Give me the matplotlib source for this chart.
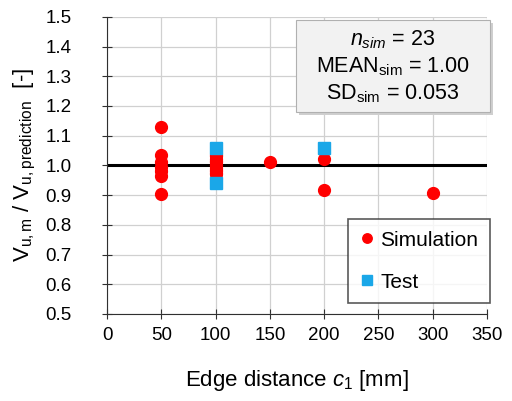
import matplotlib.pyplot as plt
from matplotlib.patches import FancyBboxPatch

plt.rcParams['font.family'] = ['Liberation Sans', 'DejaVu Sans']
plt.rcParams['mathtext.fontset'] = 'custom'
plt.rcParams['mathtext.rm'] = 'Liberation Sans'
plt.rcParams['mathtext.it'] = 'Liberation Sans:italic'

# simulation results
sim_c1 = [50, 50, 50, 50, 50, 50, 50,
          100, 100, 100, 100, 100, 100, 100, 100, 100, 100, 100, 100,
          150, 200, 200, 300]
sim_ratio = [1.13, 1.035, 1.01, 0.995, 0.98, 0.965, 0.905,
             1.035, 1.03, 1.02, 1.015, 1.01, 1.0, 1.0, 0.99, 0.985, 0.98, 0.975, 0.97,
             1.013, 1.023, 0.918, 0.908]

# test results
test_c1 = [100, 100, 200]
test_ratio = [1.06, 0.942, 1.06]

fig = plt.figure(figsize=(5.12, 4.01), dpi=100)
ax = fig.add_axes([0.209, 0.217, 0.742, 0.741])

ax.axhline(1.0, color='black', lw=2.2, zorder=2)
ax.plot(sim_c1, sim_ratio, 'o', color='#ff0000', ms=8.5, label='Simulation', zorder=3)
ax.plot(test_c1, test_ratio, 's', color='#1aa7e8', ms=8.5, label='Test', zorder=4)

ax.set_xlim(0, 350)
ax.set_ylim(0.5, 1.5)
ax.set_xticks(range(0, 351, 50))
ax.set_yticks([0.5 + 0.1 * i for i in range(11)])
ax.set_yticklabels([f'{0.5 + 0.1 * i:.1f}' for i in range(11)])
ax.grid(color='#d0d0d0', lw=0.9)
ax.set_axisbelow(True)
for s in ['top', 'right']:
    ax.spines[s].set_visible(False)
for s in ['left', 'bottom']:
    ax.spines[s].set_color('#303030')
ax.tick_params(labelsize=13.5, length=7, direction='inout', color='#303030')
ax.tick_params(axis='y', pad=22)
ax.tick_params(axis='x', pad=6)

ax.set_xlabel('Edge distance $\\mathit{c_1}$ [mm]', fontsize=16, labelpad=17)
ax.set_ylabel('V$_{\\mathregular{u,m}}$ / V$_{\\mathregular{u,prediction}}$  [-]',
              fontsize=16, labelpad=5)

leg = ax.legend(loc='lower right', fontsize=15, frameon=True, fancybox=False,
                edgecolor='#303030', borderpad=0.55, handletextpad=0.3,
                labelspacing=1.1, handlelength=0.7, markerscale=0.8,
                borderaxespad=0, bbox_to_anchor=(1.007, 0.037))
leg.get_frame().set_linewidth(1.2)

# statistics box
shadow = FancyBboxPatch((0.505, 0.67), 0.51, 0.31, transform=ax.transAxes,
                        boxstyle='square,pad=0', fc='#cfcfcf', ec='none',
                        clip_on=False, zorder=5)
box = FancyBboxPatch((0.497, 0.68), 0.51, 0.31, transform=ax.transAxes,
                     boxstyle='square,pad=0', fc='#f2f2f2', ec='#b0b0b0',
                     lw=0.8, clip_on=False, zorder=6)
ax.add_patch(shadow)
ax.add_patch(box)
ax.text(0.752, 0.832,
        '$\\mathit{n_{sim}}$ = 23\n'
        'MEAN$_{\\mathregular{sim}}$ = 1.00\n'
        'SD$_{\\mathregular{sim}}$ = 0.053',
        transform=ax.transAxes, ha='center', va='center', fontsize=15.5,
        linespacing=1.25, zorder=7)

fig.savefig('out.png', dpi=100)
